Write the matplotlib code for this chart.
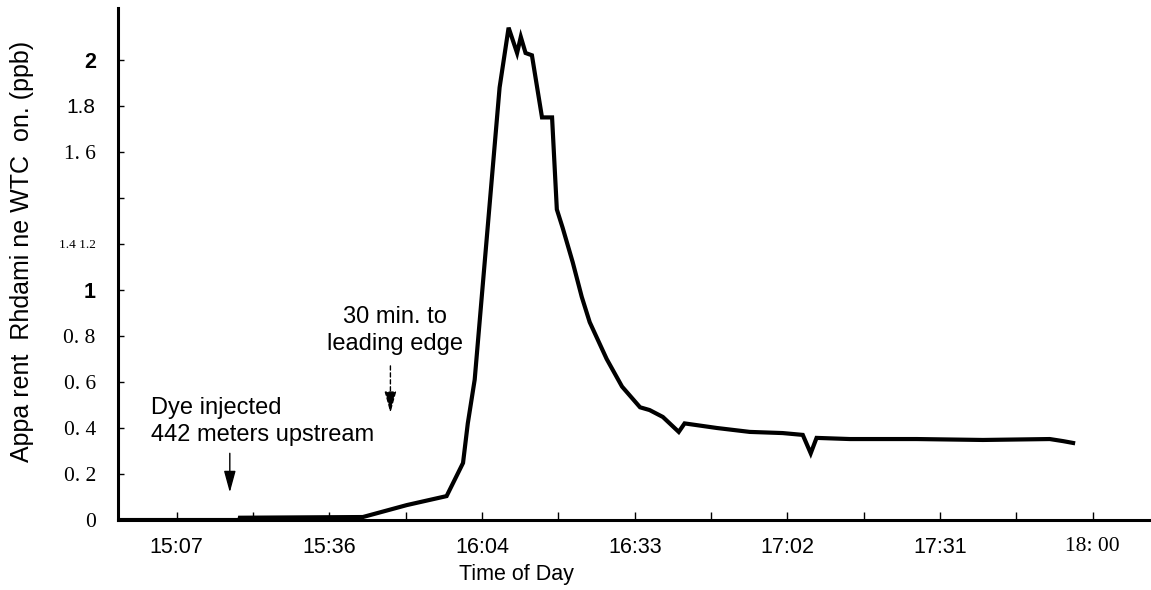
import matplotlib
matplotlib.use("Agg")
import matplotlib.pyplot as plt

# time of day in minutes after midnight, apparent rhodamine WT conc. (ppb)
minutes = [896.8, 919.0, 919.1, 942.3, 950.6, 958.1, 961.2, 962.1, 963.4,
           968.1, 969.8, 971.4, 972.1, 973.0, 974.2, 976.1, 978.0, 978.9,
           980.0, 981.9, 983.6, 985.1, 988.3, 991.2, 994.6, 996.4, 998.9,
           1001.9, 1003.0, 1009.1, 1015.3, 1021.5, 1025.3, 1026.8, 1027.9,
           1034.2, 1046.8, 1059.3, 1071.9, 1074.4, 1076.3]
conc = [0.0, 0.0, 0.01, 0.013, 0.065, 0.104, 0.248, 0.42, 0.61,
        1.88, 2.14, 2.03, 2.10, 2.03, 2.02, 1.75, 1.75, 1.35,
        1.27, 1.12, 0.97, 0.86, 0.70, 0.58, 0.49, 0.478, 0.448,
        0.383, 0.42, 0.40, 0.383, 0.378, 0.37, 0.29, 0.357,
        0.352, 0.352, 0.348, 0.352, 0.343, 0.335]

x_ticks = [907.2, 936.0, 964.8, 993.6, 1022.4, 1051.2, 1080.0]
x_labels = ["15:07", "15:36", "16:04", "16:33", "17:02", "17:31", "18: 00"]
y_ticks = [0, 0.2, 0.4, 0.6, 0.8, 1.0, 1.2, 1.4, 1.6, 1.8, 2.0]
y_labels = ["0", "0. 2", "0. 4", "0. 6", "0. 8", "1", "1.4 1.2", "", "1. 6", "1.8", "2"]

sans = "Liberation Sans"
serif = "Liberation Serif"

fig = plt.figure(figsize=(11.51, 5.90), dpi=100)
ax = fig.add_axes([0.1025, 0.1186, 0.8975, 0.868])

ax.plot(minutes, conc, color="black", lw=3, solid_joinstyle="miter")

ax.set_xlim(896.1, 1091.0)
ax.set_ylim(0, 2.226)

ax.spines["top"].set_visible(False)
ax.spines["right"].set_visible(False)
ax.spines["left"].set_linewidth(2.2)
ax.spines["bottom"].set_linewidth(2.2)

ax.set_xticks(x_ticks)
ax.set_xticklabels(x_labels)
ax.set_xticks([907.2 + 14.4 * k for k in range(13)], minor=True)
ax.tick_params(axis="x", which="both", direction="in", length=6, width=1, pad=12)
ax.tick_params(axis="x", which="major", labelsize=15.5)
for lab in ax.get_xticklabels():
    lab.set_family(serif if lab.get_text() == "18: 00" else sans)

ax.set_yticks(y_ticks)
ax.set_yticklabels(y_labels)
ax.tick_params(axis="y", direction="in", length=4, width=1, pad=16)
for lab in ax.get_yticklabels():
    t = lab.get_text()
    if t in ("1", "2"):
        lab.set_family(sans)
        lab.set_fontweight("bold")
        lab.set_fontsize(15.5)
    elif t == "1.8":
        lab.set_family(sans)
        lab.set_fontsize(15)
    elif t == "1.4 1.2":
        lab.set_family(serif)
        lab.set_fontsize(9.5)
    else:
        lab.set_family(serif)
        lab.set_fontsize(15.5)

fig.text(0.449, 0.026, "Time of Day", family=sans, fontsize=15.5,
         ha="center", va="center")
fig.text(0.019, 0.573, "Appa rent  Rhdami ne WTC  on. (ppb)", rotation=90,
         family=sans, fontsize=18, ha="center", va="center")

# annotations
ax.text(902.3, 0.43, "Dye injected\n442 meters upstream", family=sans,
        fontsize=17, ha="left", va="center", linespacing=1.3)
ax.annotate("", xy=(917.2, 0.12), xytext=(917.2, 0.29),
            arrowprops=dict(arrowstyle="-|>,head_length=1.1,head_width=0.3",
                            color="black", lw=1,
                            mutation_scale=12, shrinkA=0, shrinkB=0))
ax.text(948.3, 0.825, "30 min. to\nleading edge", family=sans,
        fontsize=17, ha="center", va="center", linespacing=1.3)
ax.annotate("", xy=(947.5, 0.465), xytext=(947.5, 0.67),
            arrowprops=dict(arrowstyle="-|>,head_length=1.1,head_width=0.3",
                            color="black", lw=1, ls=(0, (3, 2)),
                            mutation_scale=12, shrinkA=0, shrinkB=0))

fig.savefig("out.png", dpi=100)
